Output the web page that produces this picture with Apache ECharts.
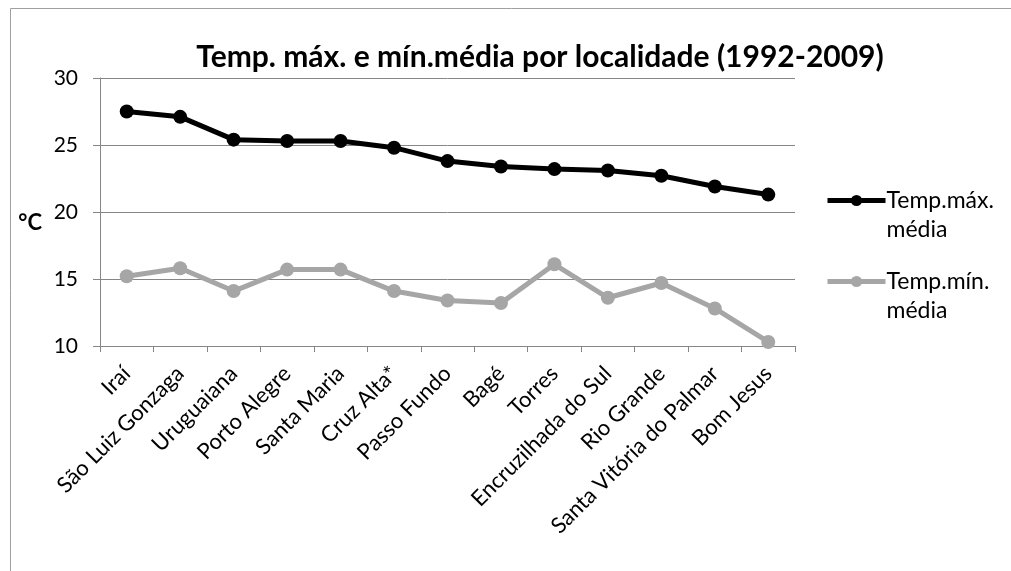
<!DOCTYPE html>
<html><head><meta charset="utf-8">
<script src="https://cdn.jsdelivr.net/npm/echarts@6/dist/echarts.min.js"></script>
<style>html,body{margin:0;padding:0;background:#fff}#c{width:1011px;height:571px}</style>
</head><body><div id="c"></div>
<script>
const categories = ['Iraí','São Luiz Gonzaga','Uruguaiana','Porto Alegre','Santa Maria','Cruz Alta*','Passo Fundo','Bagé','Torres','Encruzilhada do Sul','Rio Grande','Santa Vitória do Palmar','Bom Jesus'];
const tempMax = [27.5,27.1,25.4,25.3,25.3,24.8,23.8,23.4,23.2,23.1,22.7,21.9,21.3];
const tempMin = [15.2,15.8,14.1,15.7,15.7,14.1,13.4,13.2,16.1,13.6,14.7,12.8,10.3];
const seriesNames = ['Temp.máx. média','Temp.mín. média'];
const titleText = 'Temp. máx. e mín.média por localidade (1992-2009)';
const FONT = 'Lato, sans-serif';
const legendBase = {orient:'vertical',left:825,padding:0,itemWidth:58,itemHeight:14,
  lineStyle:{width:5},
  textStyle:{fontFamily:FONT,fontSize:23,color:'#000',lineHeight:29,padding:[0,0,0,-4]},
  formatter:n=>'\n'+n.replace(' ','\n')};
const chart = echarts.init(document.getElementById('c'));
chart.setOption({
  animation:false,
  backgroundColor:'#fff',
  graphic:[{type:'rect',shape:{x:10.5,y:8.5,width:1100,height:700},style:{fill:'none',stroke:'#a0a0a0',lineWidth:1}}],
  title:{text:titleText,left:535,textAlign:'center',top:37,textStyle:{fontFamily:FONT,fontWeight:'bold',fontSize:30,color:'#000'}},
  legend:[Object.assign({top:157,data:[seriesNames[0]]},legendBase),
          Object.assign({top:238,data:[seriesNames[1]]},legendBase)],
  grid:{left:100,right:216,top:78,bottom:225},
  xAxis:{type:'category',data:categories,boundaryGap:true,
    axisLine:{lineStyle:{color:'#868686',width:1}},
    axisTick:{show:true,length:6,alignWithLabel:false,lineStyle:{color:'#868686'}},
    axisLabel:{rotate:45,interval:0,fontFamily:FONT,fontSize:22,color:'#000',margin:24}},
  yAxis:{type:'value',min:10,max:30,interval:5,
    name:'°C',nameLocation:'middle',nameRotate:0,nameGap:58,
    nameTextStyle:{fontFamily:FONT,fontWeight:'bold',fontSize:22,color:'#000',verticalAlign:'top'},
    axisLine:{show:true,lineStyle:{color:'#868686'}},
    axisTick:{show:true,length:7,lineStyle:{color:'#868686'}},
    splitLine:{lineStyle:{color:'#868686',width:1}},
    axisLabel:{fontFamily:FONT,fontSize:21,color:'#000',margin:22}},
  series:[
    {name:seriesNames[0],type:'line',data:tempMax,symbol:'circle',symbolSize:14,
     lineStyle:{color:'#000',width:5},itemStyle:{color:'#000'}},
    {name:seriesNames[1],type:'line',data:tempMin,symbol:'circle',symbolSize:14,
     lineStyle:{color:'#a6a6a6',width:5},itemStyle:{color:'#a6a6a6'}}
  ]
});
</script></body></html>
